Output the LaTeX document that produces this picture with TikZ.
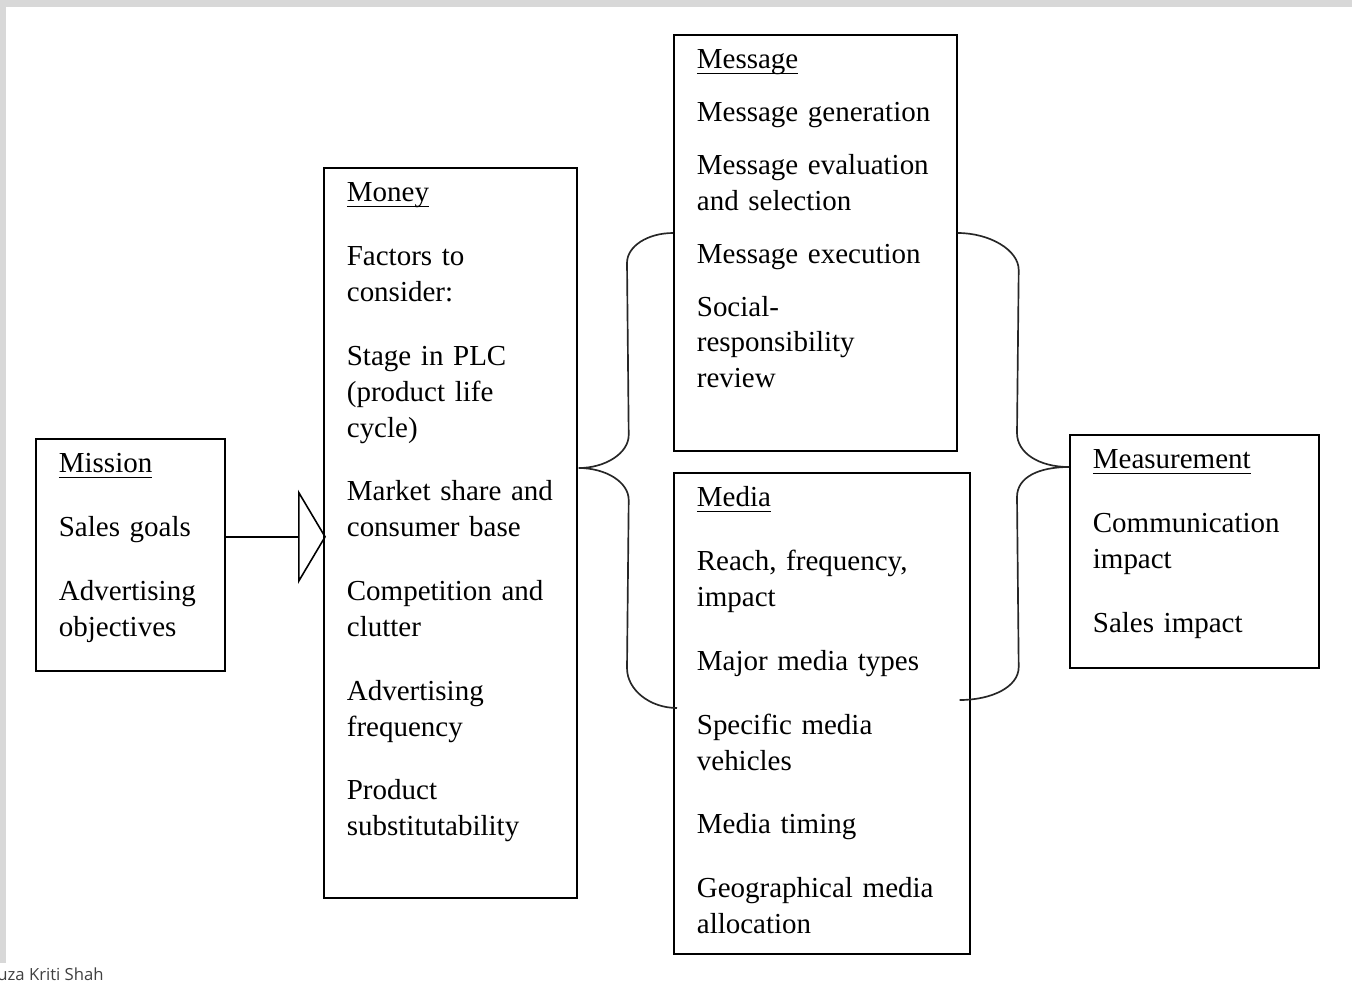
\documentclass[tikz,border=0pt]{standalone}
\usepackage{fontspec}
\setmainfont{Liberation Serif}
\newfontfamily\notefont{Open Sans}
\usepackage{xcolor}
\usepackage{tikz}
\usetikzlibrary{arrows.meta, calc}
\definecolor{framegray}{RGB}{216,216,216}
\definecolor{notegray}{RGB}{64,64,64}
\newlength{\headwd}
\newcommand{\headword}[1]{\settowidth{\headwd}{#1}\rlap{\rule[-0.11cm]{\headwd}{0.8pt}}#1}

\begin{document}
\begin{tikzpicture}[
    x=0.02cm, y=-0.02cm,
    box/.style={rectangle, draw, line width=1pt, anchor=north west, align=left, inner xsep=0.46cm, inner ysep=0.18cm, text height=0.5cm, font=\fontsize{16.5pt}{20.4pt}\selectfont},
    brace/.style={line width=0.95pt, draw=black!85},
    arrow/.style={-{Triangle[open, length=0.56cm, width=1.88cm]}, line width=0.9pt}
]
\useasboundingbox (0,0) rectangle (1352,981);
\clip (0,0) rectangle (1352,981);

% Page frame
\fill[framegray] (0,0) rectangle (1352,7);
\fill[framegray] (0,0) rectangle (6,963);

% The five boxes
\node[box, text width=2.86cm, text depth=3.78cm] (mission) at (35,438) {\headword{Mission}\\[0.56cm]
    Sales goals\\[0.56cm]
    Advertising\\ objectives};
\node[box, text width=4.14cm, text depth=13.74cm] (money) at (323,167) {\headword{Money}\\[0.56cm]
    Factors to\\ consider:\\[0.56cm]
    Stage in PLC\\ (product life\\ cycle)\\[0.56cm]
    Market share and\\ consumer base\\[0.56cm]
    Competition and\\ clutter\\[0.56cm]
    Advertising\\ frequency\\[0.56cm]
    Product\\ substitutability};
\node[box, text width=4.74cm, text depth=7.46cm] (message) at (673,34) {\headword{Message}\\[0.34cm]
    Message generation\\[0.34cm]
    Message evaluation\\ and selection\\[0.34cm]
    Message execution\\[0.34cm]
    Social-\\ responsibility\\ review};
\node[box, text width=5.0cm, text depth=8.76cm] (media) at (673,472) {\headword{Media}\\[0.56cm]
    Reach, frequency,\\ impact\\[0.56cm]
    Major media types\\[0.56cm]
    Specific media\\ vehicles\\[0.56cm]
    Media timing\\[0.56cm]
    Geographical media\\ allocation};
\node[box, text width=4.06cm, text depth=3.80cm] (measurement) at (1069,434) {\headword{Measurement}\\[0.56cm]
    Communication\\ impact\\[0.56cm]
    Sales impact};

% Arrow from mission to money
\coordinate (arrowend) at ($(money.west)+(3,4)$);
\draw[arrow] (mission.east |- arrowend) -- (arrowend);

% Brace ends and tips
\coordinate (lbtop) at ($(message.north west)+(0,199)$);
\coordinate (lbbot) at ($(media.north west)+(4,236)$);
\coordinate (lbtip) at ($(money.north east)+(1,301)$);
\coordinate (rbtop) at ($(message.north east)+(0,199)$);
\coordinate (rbbot) at ($(media.north east)+(-11,228)$);
\coordinate (rbtip) at ($(measurement.north west)+(0,33)$);

% Left brace: money to message and media
\draw[brace] (lbtop) .. controls +(-25,0) and +(0,-17) .. ($(lbtop)+(-46,30)$)
    -- ($(lbtip)+(50,-33)$) .. controls +(0,18) and +(27,0) .. (lbtip)
    .. controls +(27,0) and +(0,-18) .. ($(lbtip)+(50,32)$)
    -- ($(lbbot)+(-50,-40)$) .. controls +(0,22) and +(-27,0) .. (lbbot);

% Right brace: message and media to measurement
\draw[brace] (rbtop) .. controls +(32,0) and +(0,-20) .. ($(rbtop)+(61,37)$)
    -- ($(rbtip)+(-52,-34)$) .. controls +(0,20) and +(-30,0) .. (rbtip)
    .. controls +(-30,0) and +(0,-20) .. ($(rbtip)+(-52,30)$)
    -- ($(rbbot)+(59,-33)$) .. controls +(0,20) and +(32,0) .. (rbbot);

% Credit line, cut by the page edge
\node[font=\notefont\fontsize{9.5pt}{11pt}\selectfont, text=notegray, anchor=base west, inner sep=0] (credit) at (-3,980) {uza Kriti Shah};

\end{tikzpicture}
\end{document}
